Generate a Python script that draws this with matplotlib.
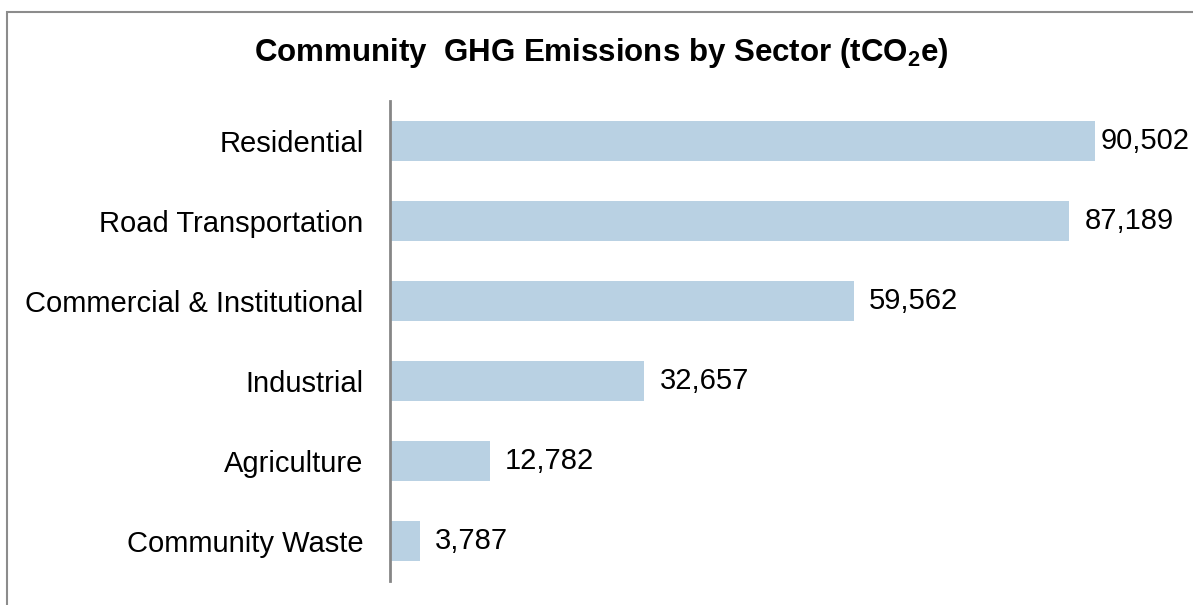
import matplotlib
matplotlib.use('Agg')
import matplotlib.pyplot as plt
from matplotlib.patches import Rectangle

plt.rcParams['font.family'] = ['Liberation Sans', 'DejaVu Sans']
plt.rcParams['mathtext.fontset'] = 'custom'
plt.rcParams['mathtext.rm'] = 'Liberation Sans'
plt.rcParams['mathtext.bf'] = 'Liberation Sans:bold'

# data
sectors = ['Residential', 'Road Transportation', 'Commercial & Institutional',
           'Industrial', 'Agriculture', 'Community Waste']
emissions = [90502, 87189, 59562, 32657, 12782, 3787]

fig = plt.figure(figsize=(11.93, 6.05), dpi=100)

# outer frame (only top and left edges visible in the source)
fig.patches.append(Rectangle((7 / 1193, -0.1), 1.2, 1 - 12 / 605 + 0.1,
                             transform=fig.transFigure, fill=False,
                             edgecolor='#8c8c8c', linewidth=1.5))

ax = fig.add_axes([390 / 1193, 24 / 605, 779 / 1193, 480 / 605])
ypos = list(range(len(sectors)))[::-1]
ax.barh(ypos, emissions, height=0.5, color='#b9d1e3')
ax.set_ylim(-0.5, len(sectors) - 0.5)
ax.set_xlim(0, 100000)
ax.set_yticks(ypos)
ax.set_yticklabels(sectors, fontsize=21)
ax.tick_params(axis='y', length=0, pad=19)
ax.set_xticks([])
for s in ['top', 'right', 'bottom']:
    ax.spines[s].set_visible(False)
ax.spines['left'].set_color('#868686')
ax.spines['left'].set_linewidth(2)

for y, v in zip(ypos, emissions):
    # labels sit ~15px right of the bar; the longest one is nudged in to fit
    off = 770 if v == max(emissions) else 1950
    ax.text(v + off, y, f'{v:,}', va='center', ha='left', fontsize=21)

fig.text(601 / 1193, 1 - 53 / 605, r'Community  GHG Emissions by Sector (tCO$_\mathbf{2}$e)',
         ha='center', va='center', fontsize=22.5, fontweight='bold')

fig.savefig('out.png', dpi=100)
